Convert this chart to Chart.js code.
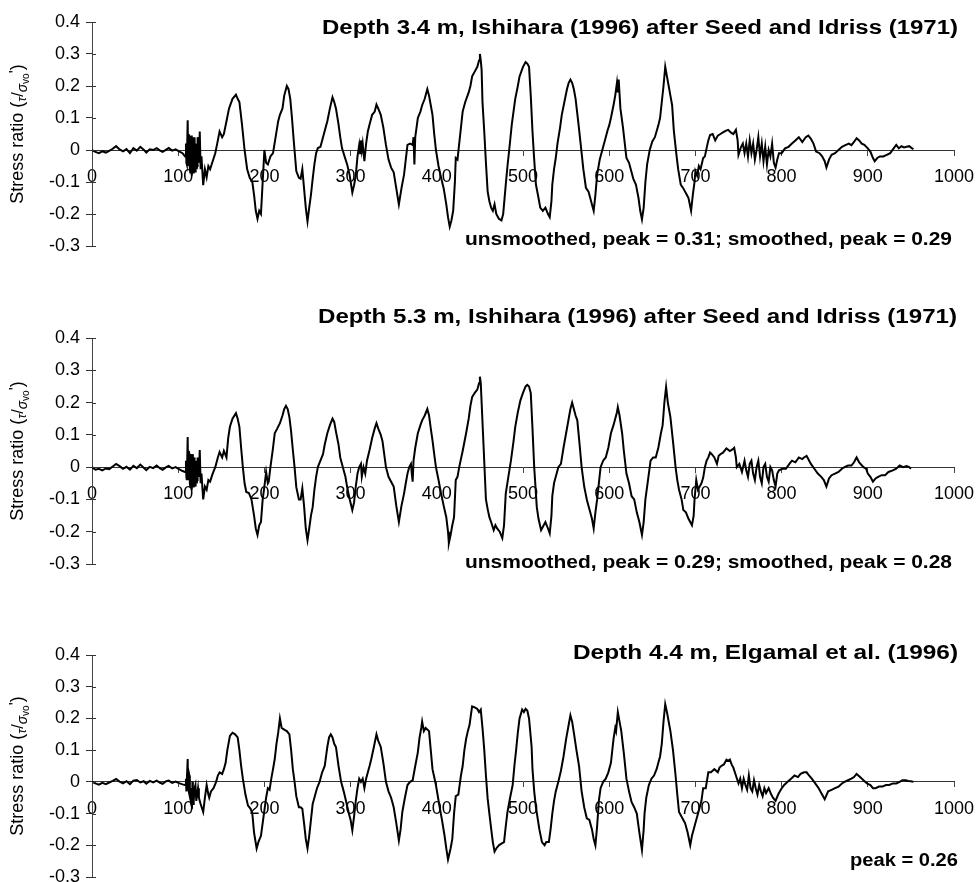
<!DOCTYPE html>
<html>
<head>
<meta charset="utf-8">
<script src="https://cdn.jsdelivr.net/npm/chart.js@4.4.1/dist/chart.umd.min.js"></script>
<style>
  body { margin: 0; background: #fff; }
  canvas { position: absolute; left: 0; }
</style>
</head>
<body>
<canvas id="panel1" width="977" height="300" style="top:0px"></canvas>
<canvas id="panel2" width="977" height="300" style="top:300px"></canvas>
<canvas id="panel3" width="977" height="282" style="top:600px"></canvas>
<script>
// data: [time, stress ratio]
const depth34 = [
  [0,0],[4,-0.006],[8,-0.01],[12,-0.004],[16,-0.008],[20,-0.003],[24,0.004],[28,0.012],[32,0.002],[36,-0.004],
  [40,0.003],[44,-0.01],[48,0.006],[52,-0.002],[56,0.01],[60,0.001],[63,-0.008],[67,0.002],[71,0],[75,0.006],
  [79,-0.002],[82,-0.006],[86,0.001],[89,0.006],[93,-0.002],[97,0.002],[101,-0.004],[105,-0.01],[108,-0.02],
  [109,0.02],[109.5,-0.04],[110,-0.045],[111,0.093],[111.5,-0.03],[112,-0.05],[112.5,0.05],[113,0.03],[113.5,-0.06],
  [114,-0.07],[114.5,0.03],[115,0.045],[115.5,-0.05],[116,-0.08],[116.5,0.04],[117,0.02],[117.5,-0.07],[118,-0.06],
  [118.5,0.03],[119,0.04],[119.5,-0.05],[120,-0.07],[120.5,0.02],[121,0.01],[121.5,-0.06],[122,-0.05],[122.5,0.04],
  [123,0.03],[124,-0.04],[125,0.058],[126,-0.06],[127,-0.02],
  [129,-0.11],[131,-0.06],[133,-0.085],[135,-0.05],[137,-0.06],[140,-0.035],[143,-0.01],[146,0.03],[148,0.058],
  [151,0.04],[153,0.05],[156,0.09],[159,0.13],[163,0.16],[167,0.173],[169,0.16],[171,0.15],[174,0.08],[177,0],
  [180,-0.06],[183,-0.087],[186,-0.1],[188,-0.14],[190,-0.19],[192,-0.215],[194,-0.19],[196,-0.2],[198,-0.1],
  [200,0],[202,-0.04],[204,-0.045],[207,-0.02],[210,-0.01],[213,0.04],[216,0.09],[218,0.11],[221,0.13],[223,0.17],
  [226,0.2],[228,0.19],[230,0.16],[232,0.1],[234,0.03],[237,-0.066],[240,-0.087],[242,-0.09],[244,-0.06],
  [246,-0.12],[248,-0.18],[250,-0.223],[252,-0.18],[254,-0.14],[256,-0.09],[258,-0.045],[260,-0.01],[262,0.006],
  [265,0.01],[267,0.03],[270,0.06],[273,0.09],[276,0.13],[279,0.165],[281,0.15],[283,0.13],[286,0.08],[288,0.04],
  [290,0.006],[293,-0.02],[296,-0.045],[299,-0.08],[302,-0.133],[304,-0.11],[306,-0.08],[308,-0.02],[310,0.016],
  [311,-0.01],[312,0.03],[313,0],[314,0.02],[316,-0.035],[318,0.02],[320,0.058],[322,0.08],[325,0.11],[328,0.12],
  [330,0.142],[332,0.13],[335,0.11],[338,0.07],[341,0.016],[344,-0.03],[347,-0.055],[350,-0.07],[353,-0.12],
  [356,-0.17],[359,-0.12],[362,-0.077],[364,-0.03],[366,0.016],[369,0.02],[372,0.016],[373,0.04],[374,-0.045],
  [375,0.04],[378,0.1],[381,0.12],[383,0.14],[386,0.16],[389,0.19],[391,0.17],[393,0.14],[395,0.11],[397,0.05],
  [399,0],[402,-0.05],[405,-0.087],[408,-0.12],[411,-0.17],[413,-0.21],[415,-0.24],[417,-0.22],[419,-0.19],
  [421,-0.1],[422,-0.025],[424,-0.03],[426,0.02],[428,0.07],[430,0.12],[433,0.15],[437,0.18],[439,0.2],[441,0.23],
  [444,0.245],[447,0.26],[449,0.28],[450,0.3],[451,0.28],[452,0.25],[453,0.15],[455,0.06],[457,-0.04],[459,-0.13],
  [461,-0.16],[463,-0.18],[465,-0.19],[467,-0.17],[469,-0.2],[472,-0.215],[475,-0.22],[477,-0.2],[480,-0.108],
  [482,-0.05],[484,0],[487,0.08],[489,0.12],[491,0.16],[494,0.2],[496,0.23],[498,0.245],[500,0.26],[503,0.275],
  [505,0.27],[507,0.26],[509,0.17],[511,0.058],[513,-0.03],[515,-0.108],[518,-0.15],[520,-0.18],[523,-0.19],
  [526,-0.18],[529,-0.2],[531,-0.21],[533,-0.16],[534,-0.108],[536,-0.06],[538,-0.025],[540,0.02],[543,0.07],
  [545,0.11],[548,0.15],[551,0.19],[553,0.21],[555,0.22],[557,0.21],[559,0.19],[561,0.16],[564,0.09],[567,0.016],
  [570,-0.06],[573,-0.118],[576,-0.13],[578,-0.15],[580,-0.17],[582,-0.19],[584,-0.14],[586,-0.077],[589,-0.03],
  [592,0],[595,0.03],[598,0.06],[600,0.077],[602,0.1],[605,0.14],[607,0.17],[609,0.21],[610,0.18],[611,0.22],
  [613,0.13],[616,0.07],[620,-0.025],[623,-0.04],[625,-0.06],[628,-0.09],[631,-0.108],[634,-0.15],[636,-0.19],
  [638,-0.217],[640,-0.18],[642,-0.1],[644,-0.045],[647,0],[650,0.027],[653,0.04],[657,0.077],[659,0.1],[661,0.15],
  [663,0.2],[665,0.26],[667,0.23],[669,0.2],[671,0.17],[673,0.14],[675,0.06],[678,-0.015],[680,-0.06],[683,-0.108],
  [686,-0.12],[688,-0.13],[690,-0.14],[692,-0.15],[695,-0.19],[697,-0.14],[699,-0.1],[700,-0.066],[702,-0.08],
  [704,-0.05],[706,-0.06],[709,-0.025],[711,-0.02],[713,0.006],[715,0.03],[717,0.047],[720,0.05],[723,0.03],
  [726,0.045],[729,0.05],[732,0.055],[735,0.06],[738,0.063],[741,0.055],[744,0.05],[747,0.063],[749,0.03],
  [750,-0.015],[753,0.01],[755,0.02],[757,-0.01],[759,0.02],[761,-0.02],[763,0.03],[765,-0.01],[767,0.02],
  [769,-0.03],[771,0],[773,0.04],[775,-0.02],[777,0.02],[779,-0.035],[781,0.01],[783,-0.045],[785,0],[787,-0.02],
  [789,0.02],[791,-0.04],[793,-0.055],[795,-0.03],[797,-0.01],[800,-0.01],[804,0.005],[808,0.01],[812,0.02],
  [816,0.03],[820,0.04],[824,0.025],[828,0.04],[831,0.045],[834,0.035],[837,0.02],[840,-0.005],[844,-0.01],
  [847,-0.02],[850,-0.035],[852,-0.055],[855,-0.03],[858,-0.015],[862,-0.01],[866,0],[870,0.01],[874,0.015],
  [878,0.02],[881,0.015],[884,0.025],[887,0.037],[890,0.03],[893,0.02],[896,0.016],[900,0.005],[903,-0.005],
  [906,-0.025],[908,-0.035],[911,-0.025],[914,-0.02],[918,-0.02],[922,-0.015],[926,-0.01],[930,0.005],[933,0.016],
  [936,0.005],[939,0.012],[942,0.008],[945,0.01],[948,0.012],[951,0.006],[953,0.003]
];

const depth53 = [
  [0,0],[4,-0.008],[8,-0.005],[12,-0.01],[16,-0.004],[20,-0.006],[24,0.002],[28,0.01],[32,0.003],[36,-0.005],
  [40,0.001],[44,-0.008],[48,0.004],[52,-0.003],[56,0.008],[60,-0.002],[63,-0.009],[67,0.001],[71,-0.003],[75,0.005],
  [79,-0.004],[82,-0.008],[86,0],[89,0.004],[93,-0.004],[97,0],[101,-0.006],[105,-0.012],[108,-0.015],
  [109,0.02],[109.5,-0.03],[110,-0.04],[111,0.093],[111.5,-0.03],[112,-0.04],[112.5,0.05],[113,0.04],[113.5,-0.05],
  [114,-0.06],[114.5,0.04],[115,0.03],[115.5,-0.06],[116,-0.07],[116.5,0.04],[117,0.03],[117.5,-0.06],[118,-0.05],
  [118.5,0.03],[119,0.02],[119.5,-0.05],[120,-0.06],[120.5,0.02],[121,0],[121.5,-0.05],[122,-0.04],[122.5,0.03],
  [123,0.02],[124,-0.03],[125,0.053],[126,-0.05],[127,-0.02],
  [129,-0.1],[131,-0.06],[133,-0.07],[135,-0.04],[137,-0.045],[140,-0.02],[143,0],[146,0.03],[148,0.047],
  [151,0.03],[153,0.05],[156,0.03],[158,0.09],[160,0.125],[163,0.15],[167,0.167],[169,0.15],[171,0.125],
  [173,0.06],[175,0],[177,-0.05],[179,-0.077],[182,-0.08],[185,-0.1],[188,-0.15],[190,-0.19],[192,-0.21],
  [194,-0.18],[196,-0.17],[198,-0.1],[200,-0.06],[202,-0.015],[204,-0.05],[205,-0.045],[207,0],[210,0.06],
  [212,0.105],[215,0.12],[218,0.136],[221,0.16],[223,0.18],[225,0.19],[227,0.18],[229,0.155],[231,0.11],
  [233,0.053],[235,0],[237,-0.062],[240,-0.1],[242,-0.1],[244,-0.066],[246,-0.12],[248,-0.19],[250,-0.226],
  [252,-0.19],[254,-0.15],[256,-0.124],[258,-0.07],[260,-0.03],[262,0],[265,0.02],[268,0.04],[270,0.07],
  [273,0.105],[276,0.13],[279,0.15],[281,0.14],[283,0.11],[286,0.07],[288,0.03],[291,0],[294,-0.03],[296,-0.062],
  [299,-0.1],[302,-0.133],[304,-0.11],[306,-0.06],[308,-0.02],[310,0],[312,0.01],[313,-0.03],[315,0],[317,-0.02],
  [319,0.02],[322,0.053],[325,0.09],[328,0.12],[330,0.136],[332,0.12],[335,0.1],[337,0.08],[339,0.04],[341,0],
  [344,-0.03],[347,-0.045],[350,-0.06],[353,-0.12],[356,-0.17],[359,-0.12],[362,-0.082],[364,-0.05],[366,-0.02],
  [368,0],[370,0.01],[371,-0.02],[372,-0.045],[373,0.02],[375,0.06],[378,0.105],[381,0.13],[383,0.145],[386,0.16],
  [389,0.18],[391,0.16],[393,0.12],[395,0.083],[397,0.04],[399,0],[402,-0.04],[405,-0.082],[408,-0.12],
  [411,-0.155],[413,-0.2],[414,-0.235],[416,-0.21],[418,-0.18],[420,-0.155],[422,-0.04],[424,-0.03],[426,0],
  [430,0.05],[434,0.105],[437,0.15],[439,0.19],[441,0.217],[444,0.23],[447,0.24],[449,0.26],[450,0.28],[451,0.26],
  [452,0.2],[454,0.08],[457,-0.1],[459,-0.13],[461,-0.155],[463,-0.17],[466,-0.195],[468,-0.18],[470,-0.19],
  [473,-0.2],[476,-0.22],[478,-0.18],[480,-0.082],[483,-0.03],[486,0.02],[489,0.08],[491,0.125],[494,0.17],
  [497,0.207],[500,0.23],[503,0.25],[505,0.255],[507,0.25],[509,0.23],[511,0.12],[513,0],[516,-0.124],[518,-0.16],
  [521,-0.195],[524,-0.18],[526,-0.17],[529,-0.19],[531,-0.205],[533,-0.15],[534,-0.09],[536,-0.05],[538,-0.03],
  [541,0],[544,0.01],[547,0.06],[550,0.105],[553,0.15],[555,0.18],[557,0.2],[559,0.18],[561,0.16],[563,0.145],
  [566,0.06],[568,0],[571,-0.06],[574,-0.1],[576,-0.12],[578,-0.14],[580,-0.16],[582,-0.19],[584,-0.14],[586,-0.1],
  [588,-0.05],[590,0],[593,0.02],[596,0.03],[599,0.06],[602,0.105],[605,0.13],[607,0.15],[609,0.17],[610,0.186],
  [612,0.16],[615,0.105],[617,0.05],[620,-0.02],[623,-0.05],[626,-0.09],[629,-0.1],[632,-0.14],[635,-0.17],
  [638,-0.21],[640,-0.17],[642,-0.1],[645,-0.04],[648,0.02],[651,0.03],[654,0.03],[657,0.06],[660,0.105],
  [662,0.13],[664,0.2],[666,0.248],[668,0.2],[670,0.17],[671,0.155],[674,0.08],[677,0],[679,-0.04],[681,-0.07],
  [684,-0.1],[686,-0.133],[689,-0.14],[692,-0.16],[696,-0.18],[698,-0.15],[699,-0.1],[701,-0.04],[703,-0.07],
  [705,-0.06],[707,-0.05],[709,-0.033],[711,0],[713,0.02],[715,0.03],[717,0.045],[719,0.04],[722,0.03],[725,0.01],
  [727,0.035],[729,0.04],[732,0.045],[736,0.058],[740,0.05],[743,0.055],[745,0.06],[747,0.03],[748,0],[751,0.01],
  [754,-0.015],[757,0.02],[759,-0.01],[761,-0.03],[763,0.01],[765,0.02],[767,-0.02],[769,-0.04],[771,0],[773,0.02],
  [775,-0.03],[777,-0.05],[779,0],[781,0.01],[783,-0.03],[785,-0.045],[787,0],[789,-0.01],[791,-0.04],[793,-0.06],
  [795,-0.02],[797,-0.01],[801,-0.005],[805,-0.005],[809,0.01],[812,0.02],[816,0.015],[820,0.03],[824,0.025],
  [826,0.03],[829,0.035],[832,0.02],[834,0.01],[838,-0.005],[842,-0.02],[846,-0.03],[849,-0.04],[852,-0.06],
  [855,-0.035],[858,-0.025],[862,-0.02],[866,-0.015],[870,-0.005],[873,0],[877,0.005],[881,0.005],[884,0.015],
  [887,0.03],[890,0.015],[895,0],[898,-0.005],[900,-0.02],[903,-0.03],[906,-0.045],[909,-0.035],[912,-0.03],
  [916,-0.025],[920,-0.025],[924,-0.015],[929,-0.01],[933,-0.005],[937,0.005],[941,0],[945,0.003],[948,0],[950,-0.005]
];

const depth44 = [
  [0,0],[4,-0.005],[8,-0.009],[12,-0.003],[16,-0.007],[20,-0.002],[24,0.003],[28,0.009],[32,0.001],[36,-0.005],
  [40,0.002],[44,-0.007],[48,0.004],[52,0.006],[56,-0.002],[60,0.002],[63,-0.006],[67,0.003],[71,-0.002],[75,0.004],
  [79,-0.003],[82,-0.006],[86,0.002],[89,0.004],[93,-0.003],[97,0.001],[101,-0.004],[105,-0.008],[108,-0.01],
  [109,0.01],[109.5,-0.03],[110,-0.03],[111,0.072],[111.5,-0.02],[112,-0.03],[112.5,0.03],[113,0.02],[113.5,-0.04],
  [114,-0.05],[115,-0.02],[116,-0.085],[116.5,0.0],[117,-0.02],[117.5,-0.07],[118,-0.06],[119,-0.02],[120,-0.01],
  [121,-0.06],[122,-0.04],[123,-0.02],[124,-0.05],[126,-0.07],[129,-0.095],[131,-0.05],[133,-0.01],[135,-0.04],[136,-0.05],[138,-0.03],
  [141,-0.02],[144,0],[146,0.02],[148,0.03],[151,0.025],[153,0.04],[155,0.06],[157,0.1],[160,0.145],[163,0.155],
  [166,0.15],[169,0.14],[171,0.1],[173,0.05],[175,0.01],[178,-0.04],[181,-0.075],[184,-0.085],[186,-0.1],
  [188,-0.16],[191,-0.21],[193,-0.19],[196,-0.17],[198,-0.13],[200,-0.09],[202,-0.05],[204,-0.02],[206,-0.025],
  [208,0.01],[210,0.04],[212,0.072],[214,0.12],[216,0.155],[218,0.2],[220,0.17],[223,0.165],[226,0.16],[229,0.15],
  [231,0.1],[233,0.04],[235,0],[237,-0.045],[240,-0.08],[242,-0.08],[244,-0.085],[246,-0.13],[248,-0.18],
  [250,-0.21],[252,-0.17],[254,-0.12],[256,-0.07],[258,-0.05],[261,-0.02],[264,0],[267,0.03],[270,0.05],
  [273,0.11],[275,0.14],[277,0.15],[279,0.14],[281,0.12],[283,0.11],[286,0.05],[289,0],[292,-0.03],[295,-0.064],
  [298,-0.1],[300,-0.12],[302,-0.153],[304,-0.11],[306,-0.06],[308,-0.02],[310,0.01],[312,0],[314,0.01],
  [316,-0.02],[318,0.01],[320,0.03],[322,0.05],[324,0.072],[327,0.11],[330,0.15],[332,0.13],[335,0.11],[338,0.06],
  [341,0],[344,-0.03],[347,-0.05],[350,-0.08],[353,-0.13],[356,-0.185],[358,-0.15],[360,-0.095],[363,-0.05],
  [366,-0.01],[369,0],[372,0.005],[375,0.05],[378,0.093],[380,0.14],[382,0.17],[383,0.19],[385,0.16],[387,0.17],
  [391,0.16],[393,0.1],[395,0.04],[399,-0.01],[403,-0.075],[406,-0.12],[409,-0.17],[411,-0.21],[413,-0.245],
  [416,-0.21],[418,-0.18],[420,-0.1],[422,-0.045],[425,-0.04],[428,0.02],[430,0.05],[432,0.1],[434,0.135],
  [436,0.16],[438,0.18],[440,0.22],[441,0.238],[444,0.235],[447,0.23],[449,0.22],[451,0.228],[453,0.17],
  [455,0.103],[457,0.02],[459,-0.053],[461,-0.1],[463,-0.147],[465,-0.19],[467,-0.22],[469,-0.21],[472,-0.2],
  [475,-0.195],[478,-0.19],[480,-0.14],[482,-0.095],[485,-0.05],[488,-0.01],[490,0.05],[492,0.1],[494,0.155],
  [496,0.2],[499,0.228],[501,0.22],[503,0.23],[505,0.225],[507,0.2],[510,0.11],[511,0.04],[513,-0.03],[515,-0.08],
  [517,-0.115],[519,-0.15],[522,-0.19],[525,-0.2],[527,-0.19],[530,-0.19],[532,-0.15],[534,-0.1],[536,-0.06],
  [538,-0.03],[541,0],[544,0.035],[547,0.08],[550,0.135],[553,0.18],[555,0.21],[557,0.19],[559,0.155],[562,0.1],
  [565,0.05],[568,-0.03],[571,-0.08],[574,-0.115],[577,-0.12],[580,-0.15],[582,-0.18],[584,-0.2],[586,-0.14],
  [588,-0.06],[590,-0.02],[593,0],[596,0.01],[599,0.03],[602,0.06],[605,0.135],[607,0.17],[608,0.16],[610,0.22],
  [612,0.19],[614,0.16],[617,0.09],[620,0.01],[623,-0.03],[626,-0.064],[629,-0.08],[632,-0.1],[635,-0.16],
  [638,-0.215],[640,-0.15],[641,-0.1],[643,-0.05],[646,-0.01],[649,0.01],[652,0.02],[655,0.04],[657,0.06],
  [659,0.08],[661,0.12],[663,0.19],[665,0.245],[667,0.22],[669,0.19],[671,0.16],[674,0.1],[677,0.02],[679,-0.04],
  [681,-0.095],[684,-0.11],[686,-0.12],[688,-0.13],[691,-0.16],[694,-0.2],[696,-0.17],[698,-0.15],[700,-0.13],
  [702,-0.11],[704,-0.09],[707,-0.06],[709,-0.02],[712,-0.02],[715,0.03],[718,0.03],[722,0.04],[726,0.03],
  [728,0.045],[730,0.05],[733,0.055],[736,0.07],[738,0.066],[740,0.07],[742,0.055],[744,0.045],[747,0.02],
  [750,-0.005],[752,0.01],[754,-0.02],[756,0.01],[758,-0.01],[760,-0.025],[762,0.02],[764,-0.02],[766,-0.03],
  [768,0.005],[770,-0.02],[772,-0.04],[774,-0.01],[776,-0.03],[778,-0.045],[780,-0.02],[782,-0.035],[785,-0.02],
  [788,-0.04],[790,-0.05],[793,-0.06],[796,-0.04],[799,-0.025],[803,-0.01],[807,0],[811,0.01],[815,0.02],
  [819,0.015],[822,0.025],[826,0.03],[829,0.03],[832,0.02],[835,0.01],[839,-0.005],[843,-0.02],[846,-0.035],
  [850,-0.055],[854,-0.03],[858,-0.025],[862,-0.02],[866,-0.015],[870,-0.005],[873,0],[877,0.005],[881,0.01],
  [884,0.015],[887,0.025],[891,0.015],[895,0.005],[899,-0.005],[903,-0.01],[906,-0.02],[909,-0.02],[913,-0.015],
  [917,-0.015],[921,-0.01],[925,-0.01],[929,-0.005],[933,-0.005],[937,0],[940,0.005],[944,0.005],[947,0.003],
  [950,0.002],[953,0]
];

const timeTicks = [0, 100, 200, 300, 400, 500, 600, 700, 800, 900, 1000];
const ratioTicks = [-0.3, -0.2, -0.1, 0, 0.1, 0.2, 0.3, 0.4];

const panelTitles = [
  'Depth 3.4 m, Ishihara (1996) after Seed and Idriss (1971)',
  'Depth 5.3 m, Ishihara (1996) after Seed and Idriss (1971)',
  'Depth 4.4 m, Elgamal et al. (1996)'
];
const panelNotes = [
  'unsmoothed, peak = 0.31; smoothed, peak = 0.29',
  'unsmoothed, peak = 0.29; smoothed, peak = 0.28',
  'peak = 0.26'
];

// where things sit inside each canvas (pixels)
const panelLayout = [
  { id: 'panel1', h: 300, areaTop: 22, areaBottom: 246, title: [322, 958, 34], note: [465, 952, 245] },
  { id: 'panel2', h: 300, areaTop: 38, areaBottom: 264, title: [318, 957, 23], note: [465, 952, 268] },
  { id: 'panel3', h: 282, areaTop: 55, areaBottom: 277, title: [573, 958, 59], note: [850, 958, 266] }
];

const FONT = '"Liberation Sans", Arial, Helvetica, sans-serif';

// draw text stretched to fill the span it has in the scan
function fitText(ctx, text, font, pos) {
  ctx.font = font;
  const w = ctx.measureText(text).width;
  ctx.save();
  ctx.translate(pos[0], pos[2]);
  ctx.scale((pos[1] - pos[0]) / w, 1);
  ctx.fillText(text, 0, 0);
  ctx.restore();
}

function drawYTitle(ctx, cx, cy) {
  const pieces = [
    { t: 'Stress ratio (', f: '18px', dy: 0 },
    { t: 'τ', f: 'italic 13px', dy: 3 },
    { t: '/', f: '16px', dy: 0 },
    { t: 'σ', f: 'italic 14px', dy: 4 },
    { t: 'vo', f: '10px', dy: 6 },
    { t: '\'', f: '16px', dy: -2 },
    { t: ')', f: '18px', dy: 0 }
  ];
  let total = 0;
  pieces.forEach(p => {
    ctx.font = p.f + ' ' + FONT;
    p.w = ctx.measureText(p.t).width;
    total += p.w;
  });
  ctx.save();
  ctx.translate(cx, cy);
  ctx.rotate(-Math.PI / 2);
  let x = -total / 2;
  pieces.forEach(p => {
    ctx.font = p.f + ' ' + FONT;
    ctx.fillText(p.t, x, 6 + p.dy);
    x += p.w;
  });
  ctx.restore();
}

// short ticks on the y axis cross the dashed line, as in the scan
function drawInnerTicks(chart) {
  const ctx = chart.ctx;
  const y = chart.scales.y;
  const x0 = chart.chartArea.left;
  ctx.save();
  ctx.strokeStyle = '#333';
  ctx.lineWidth = 1;
  ratioTicks.forEach(v => {
    const py = Math.round(y.getPixelForValue(v)) + 0.5;
    ctx.beginPath();
    ctx.moveTo(x0, py);
    ctx.lineTo(x0 + 4, py);
    ctx.stroke();
  });
  ctx.restore();
}

function makePanel(i, trace) {
  const lay = panelLayout[i];
  const textPlugin = {
    id: 'panelText' + i,
    afterDraw(chart) {
      const ctx = chart.ctx;
      const area = chart.chartArea;
      drawInnerTicks(chart);
      ctx.save();
      ctx.fillStyle = '#000';
      ctx.textAlign = 'left';
      ctx.textBaseline = 'alphabetic';
      fitText(ctx, panelTitles[i], 'bold 20px ' + FONT, lay.title);
      fitText(ctx, panelNotes[i], 'bold 18px ' + FONT, lay.note);
      drawYTitle(ctx, 17, (area.top + area.bottom) / 2);
      ctx.restore();
    }
  };

  return new Chart(document.getElementById(lay.id), {
    type: 'line',
    data: {
      datasets: [{
        data: trace.map(p => ({ x: p[0], y: p[1] })),
        borderColor: '#000',
        borderWidth: 2,
        pointRadius: 0,
        tension: 0,
        fill: false
      }]
    },
    options: {
      responsive: false,
      animation: false,
      layout: {
        padding: { left: 0, right: 23, top: lay.areaTop, bottom: lay.h - lay.areaBottom }
      },
      plugins: {
        legend: { display: false },
        tooltip: { enabled: false }
      },
      scales: {
        x: {
          type: 'linear',
          position: { y: 0 },
          min: 0,
          max: 1000,
          afterBuildTicks: scale => { scale.ticks = timeTicks.map(v => ({ value: v })); },
          afterFit: scale => { scale.paddingLeft = 0; scale.paddingRight = 0; },
          grid: { drawOnChartArea: false, tickLength: 5, color: '#444' },
          border: { display: true, color: '#333', width: 1 },
          ticks: {
            padding: 11,
            color: '#000',
            maxRotation: 0,
            font: { family: FONT, size: 18 },
            callback: v => String(v)
          }
        },
        y: {
          min: -0.3,
          max: 0.4,
          afterBuildTicks: scale => { scale.ticks = ratioTicks.map(v => ({ value: v })); },
          afterFit: scale => { scale.width = 92; scale.paddingTop = 0; scale.paddingBottom = 0; },
          grid: { drawOnChartArea: false, tickLength: 6, color: '#333' },
          border: { display: true, color: '#444', width: 1, dash: [5, 3] },
          ticks: {
            padding: 6,
            color: '#000',
            font: { family: FONT, size: 18 },
            callback: v => (Math.abs(v) < 1e-9 ? '0' : v.toFixed(1))
          }
        }
      }
    },
    plugins: [textPlugin]
  });
}

makePanel(0, depth34);
makePanel(1, depth53);
makePanel(2, depth44);
</script>
</body>
</html>
